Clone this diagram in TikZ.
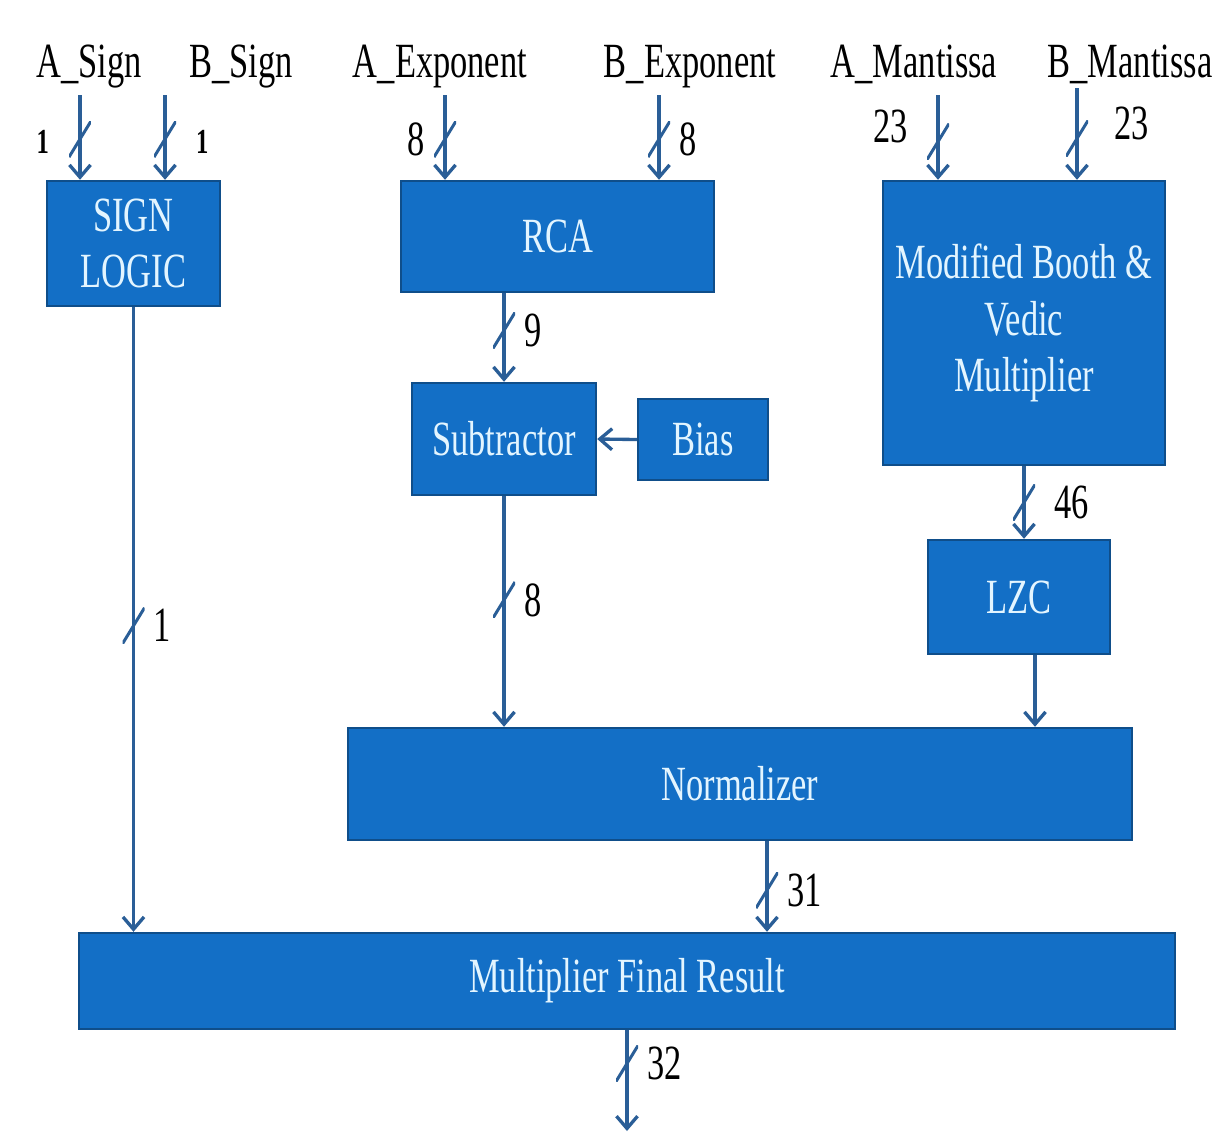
\documentclass[tikz,border=0pt]{standalone}
\usepackage{fontspec}
\setmainfont[FakeStretch=0.7]{Liberation Serif}
\usetikzlibrary{positioning}
\usetikzlibrary{arrows.meta}
\definecolor{boxfill}{HTML}{136FC6}
\definecolor{boxedge}{HTML}{0F4E8A}
\definecolor{boxtext}{HTML}{E3F5FF}
\definecolor{wirecol}{HTML}{2A5E97}
\tikzstyle{block} = [draw=boxedge, line width=1.4pt, fill=boxfill, text=boxtext, inner sep=0pt, align=center, font=\fontsize{28}{32}\selectfont]
\tikzstyle{wire} = [draw=wirecol, line width=1.9pt, -{Straight Barb[length=7pt,width=12pt]}]
\tikzstyle{bus} = [inner sep=0pt, minimum width=0.44cm, minimum height=0.72cm, path picture={\draw[-, wirecol, line width=1.7pt] (path picture bounding box.south west) -- (path picture bounding box.north east);}]
\tikzstyle{num} = [text=black, font=\fontsize{28}{32}\selectfont]
\tikzstyle{tiny} = [text=black, font=\fontsize{20}{22}\selectfont\bfseries, label distance=0.22cm, yshift=-0.05cm]
\tikzstyle{signal} = [anchor=base, font=\fontsize{28}{32}\selectfont]

\begin{document}
\begin{tikzpicture}[x=0.02cm, y=-0.02cm]
    \useasboundingbox[fill=white] (0,0) rectangle (1222,1133);

    % Input names
    \node[signal] (asl) at (89,77) {A\_Sign};
    \node[signal] (bsl) at (241,77) {B\_Sign};
    \node[signal] (ael) at (440,77) {A\_Exponent};
    \node[signal] (bel) at (690,77) {B\_Exponent};
    \node[signal] (aml) at (914,77) {A\_Mantissa};
    \node[signal] (bml) at (1130,77) {B\_Mantissa};
    \coordinate (asin) at (80,95);
    \coordinate (bsin) at (165,95);
    \coordinate (aein) at (445,95);
    \coordinate (bein) at (659,95);
    \coordinate (amin) at (938,95);
    \coordinate (bmin) at (1077,88);

    % Blocks
    \node[block, minimum width=3.46cm, minimum height=2.5cm] (sign) at (133.5,243.5) {SIGN\\LOGIC};
    \node[block, minimum width=6.26cm, minimum height=2.22cm] (rca) at (557.5,236.5) {RCA};
    \node[block, minimum width=5.64cm, minimum height=5.68cm] (booth) at (1024,323) {Modified Booth \&\\Vedic\\Multiplier};
    \node[block, minimum width=3.68cm, minimum height=2.24cm] (sub) at (504,439) {Subtractor};
    \node[block, minimum width=2.6cm, minimum height=1.62cm] (bias) at (703,439.5) {Bias};
    \node[block, minimum width=3.64cm, minimum height=2.28cm] (lzc) at (1019,597) {LZC};
    \node[block, minimum width=15.68cm, minimum height=2.24cm] (norm) at (740,784) {Normalizer};
    \node[block, minimum width=21.92cm, minimum height=1.92cm] (final) at (627,981) {Multiplier Final Result};
    \coordinate (out) at (627,1131);

    % Connections
    \draw[wire] (asin) -- node[bus, pos=0.52, label={[tiny]left:1}] {} (sign.north -| asin);
    \draw[wire] (bsin) -- node[bus, pos=0.52, label={[tiny]right:1}] {} (sign.north -| bsin);
    \draw[wire] (aein) -- node[bus, pos=0.52, label={[num]left:8}] {} (rca.north -| aein);
    \draw[wire] (bein) -- node[bus, pos=0.52, label={[num]right:8}] {} (rca.north -| bein);
    \draw[wire] (amin) -- node[bus, pos=0.55, label={[num, yshift=0.3cm, label distance=0.2cm]left:23}] {} (booth.north -| amin);
    \draw[wire] (bmin) -- node[bus, pos=0.55, label={[num, yshift=0.3cm, label distance=0.35cm]right:23}] {} (booth.north -| bmin);
    \draw[wire] (sub.north |- rca.south) -- node[bus, pos=0.42, label={[num]right:9}] {} (sub.north);
    \draw[wire] (bias.west) -- (sub.east);
    \draw[wire] (sub.south) -- node[bus, pos=0.45, label={[num]right:8}] {} (sub.south |- norm.north);
    \draw[wire] (booth.south) -- node[bus, pos=0.5, label={[num, label distance=0.2cm]right:46}] {} (booth.south |- lzc.north);
    \draw[wire] ([xshift=0.32cm]lzc.south) -- ([xshift=0.32cm]lzc.south |- norm.north);
    \draw[wire] (sign.south) -- node[bus, pos=0.51, label={[num]right:1}] {} (sign.south |- final.north);
    \draw[wire] ([xshift=0.54cm]norm.south) -- node[bus, pos=0.54, label={[num]right:31}] {} ([xshift=0.54cm]norm.south |- final.north);
    \draw[wire] (final.south) -- node[bus, pos=0.33, label={[num]right:32}] {} (out);
\end{tikzpicture}
\end{document}
